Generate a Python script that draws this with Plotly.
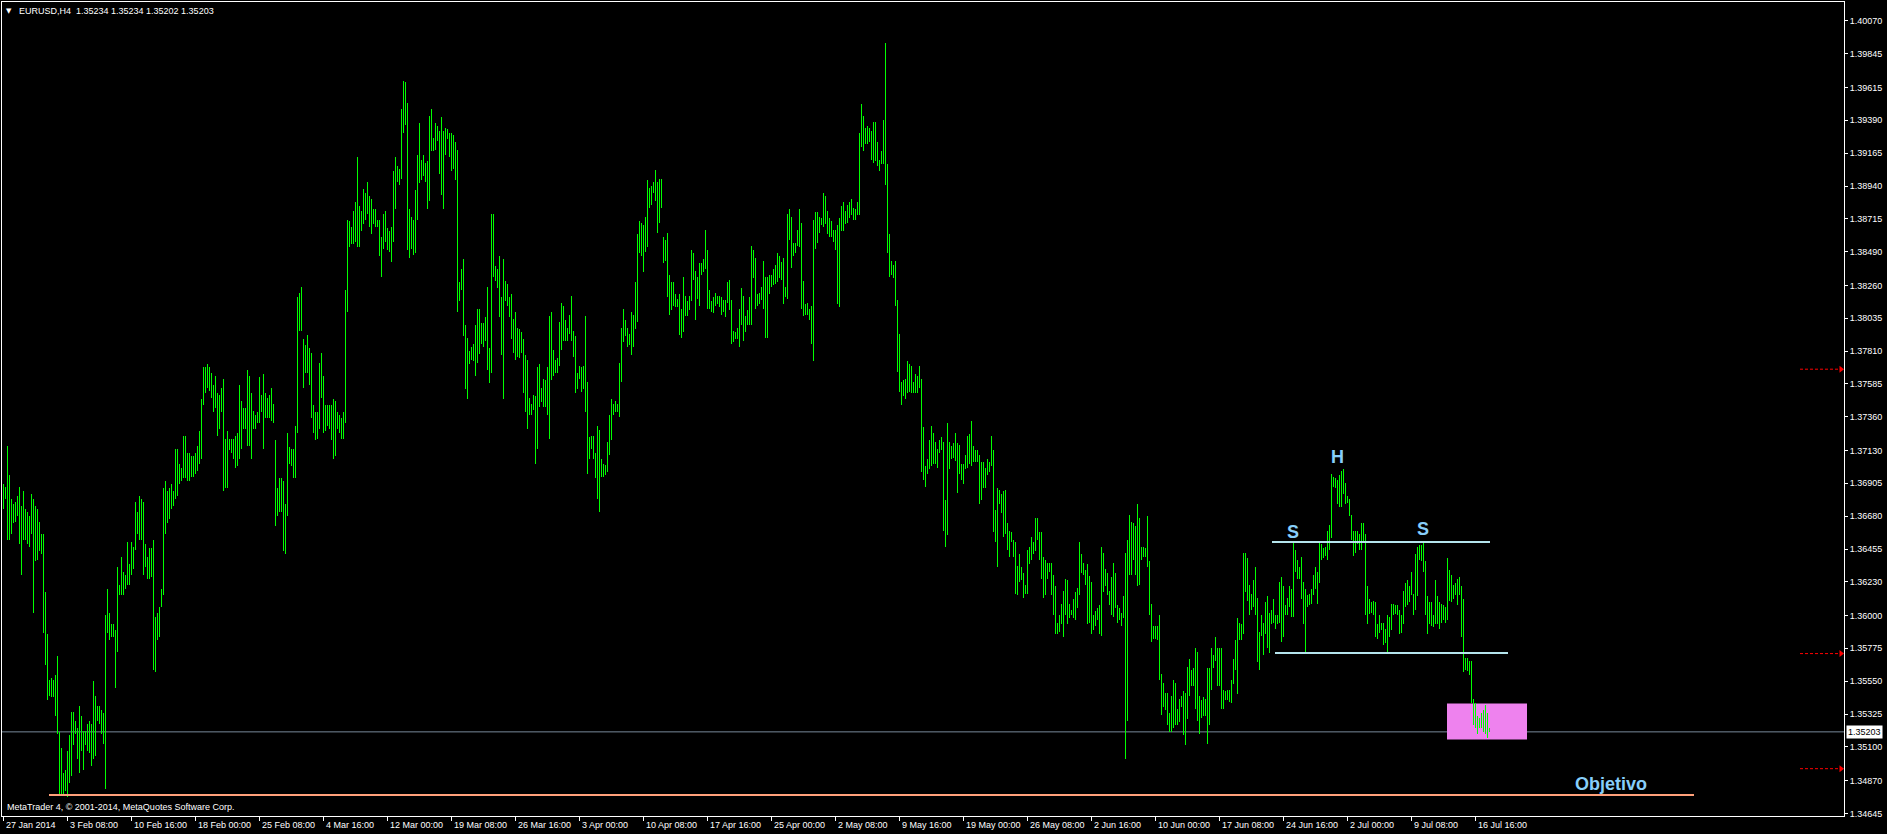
import plotly.graph_objects as go

# ---------------- DATA (EURUSD H4) ----------------
bar_high = [
    1.3690, 1.3688, 1.3716, 1.3696, 1.3680, 1.3676, 1.3678, 1.3682, 1.3688, 1.3675,
    1.3685, 1.3673, 1.3671, 1.3668, 1.3683, 1.3680, 1.3675, 1.3673, 1.3664, 1.3656,
    1.3656, 1.3616, 1.3587, 1.3556, 1.3557, 1.3556, 1.3559, 1.3572, 1.3520, 1.3509,
    1.3492, 1.3494, 1.3507, 1.3518, 1.3534, 1.3534, 1.3528, 1.3523, 1.3538, 1.3531,
    1.3521, 1.3521, 1.3526, 1.3528, 1.3526, 1.3555, 1.3545, 1.3538, 1.3538, 1.3535,
    1.3533, 1.3600, 1.3618, 1.3602, 1.3594, 1.3594, 1.3590, 1.3633, 1.3621, 1.3640,
    1.3630, 1.3628, 1.3650, 1.3635, 1.3650, 1.3647, 1.3678, 1.3671, 1.3682, 1.3680,
    1.3678, 1.3649, 1.3640, 1.3646, 1.3646, 1.3652, 1.3599, 1.3602, 1.3606, 1.3618,
    1.3687, 1.3692, 1.3685, 1.3687, 1.3690, 1.3685, 1.3714, 1.3714, 1.3704, 1.3701,
    1.3723, 1.3723, 1.3711, 1.3711, 1.3709, 1.3709, 1.3711, 1.3716, 1.3726, 1.3748,
    1.3770, 1.3770, 1.3772, 1.3770, 1.3766, 1.3758, 1.3764, 1.3752, 1.3751, 1.3756,
    1.3762, 1.3721, 1.3726, 1.3721, 1.3721, 1.3721, 1.3723, 1.3725, 1.3758, 1.3747,
    1.3742, 1.3742, 1.3768, 1.3764, 1.3752, 1.3740, 1.3737, 1.3739, 1.3763, 1.3751,
    1.3765, 1.3752, 1.3749, 1.3751, 1.3756, 1.3745, 1.3720, 1.3687, 1.3694, 1.3694,
    1.3692, 1.3676, 1.3725, 1.3715, 1.3714, 1.3714, 1.3730, 1.3818, 1.3821, 1.3825,
    1.3789, 1.3785, 1.3792, 1.3783, 1.3780, 1.3744, 1.3739, 1.3739, 1.3773, 1.3780,
    1.3764, 1.3744, 1.3744, 1.3744, 1.3744, 1.3748, 1.3747, 1.3739, 1.3737, 1.3735,
    1.3739, 1.3823, 1.3871, 1.3870, 1.3866, 1.3877, 1.3883, 1.3914, 1.3880, 1.3877,
    1.3892, 1.3889, 1.3897, 1.3887, 1.3885, 1.3878, 1.3878, 1.3871, 1.3871, 1.3859,
    1.3875, 1.3877, 1.3865, 1.3863, 1.3866, 1.3904, 1.3914, 1.3908, 1.3906, 1.3947,
    1.3966, 1.3965, 1.3951, 1.3878, 1.3873, 1.3871, 1.3891, 1.3915, 1.3937, 1.3912,
    1.3915, 1.3910, 1.3911, 1.3942, 1.3947, 1.3927, 1.3937, 1.3935, 1.3932, 1.3941,
    1.3932, 1.3934, 1.3933, 1.3930, 1.3930, 1.3929, 1.3924, 1.3919, 1.3828, 1.3837,
    1.3844, 1.3799, 1.3790, 1.3781, 1.3784, 1.3786, 1.3799, 1.3810, 1.3810, 1.3800,
    1.3800, 1.3804, 1.3825, 1.3783, 1.3875, 1.3875, 1.3839, 1.3837, 1.3846, 1.3818,
    1.3844, 1.3829, 1.3827, 1.3818, 1.3820, 1.3803, 1.3808, 1.3797, 1.3796, 1.3794,
    1.3789, 1.3778, 1.3775, 1.3749, 1.3745, 1.3751, 1.3750, 1.3770, 1.3772, 1.3756,
    1.3762, 1.3761, 1.3770, 1.3805, 1.3808, 1.3782, 1.3775, 1.3776, 1.3801, 1.3814,
    1.3812, 1.3802, 1.3797, 1.3806, 1.3819, 1.3795, 1.3791, 1.3766, 1.3771, 1.3770,
    1.3771, 1.3805, 1.3760, 1.3722, 1.3723, 1.3723, 1.3711, 1.3730, 1.3727, 1.3707,
    1.3704, 1.3703, 1.3719, 1.3737, 1.3748, 1.3745, 1.3747, 1.3745, 1.3773, 1.3797,
    1.3810, 1.3802, 1.3797, 1.3793, 1.3808, 1.3806, 1.3828, 1.3861, 1.3870, 1.3869,
    1.3867, 1.3873, 1.3898, 1.3893, 1.3894, 1.3897, 1.3905, 1.3897, 1.3899, 1.3899,
    1.3859, 1.3857, 1.3862, 1.3833, 1.3828, 1.3828, 1.3820, 1.3817, 1.3820, 1.3810,
    1.3832, 1.3819, 1.3815, 1.3819, 1.3850, 1.3848, 1.3836, 1.3832, 1.3841, 1.3841,
    1.3844, 1.3864, 1.3850, 1.3823, 1.3815, 1.3818, 1.3821, 1.3819, 1.3819, 1.3818,
    1.3816, 1.3816, 1.3828, 1.3830, 1.3816, 1.3795, 1.3794, 1.3797, 1.3810, 1.3824,
    1.3819, 1.3805, 1.3809, 1.3818, 1.3853, 1.3850, 1.3845, 1.3820, 1.3821, 1.3825,
    1.3843, 1.3832, 1.3832, 1.3833, 1.3833, 1.3837, 1.3840, 1.3848, 1.3846, 1.3842,
    1.3845, 1.3825, 1.3875, 1.3878, 1.3873, 1.3855, 1.3855, 1.3864, 1.3878, 1.3869,
    1.3829, 1.3813, 1.3814, 1.3810, 1.3812, 1.3871, 1.3876, 1.3876, 1.3873, 1.3872,
    1.3889, 1.3887, 1.3877, 1.3872, 1.3870, 1.3864, 1.3864, 1.3867, 1.3872, 1.3880,
    1.3883, 1.3877, 1.3881, 1.3883, 1.3885, 1.3879, 1.3878, 1.3883, 1.3930, 1.3950,
    1.3942, 1.3934, 1.3935, 1.3934, 1.3932, 1.3938, 1.3938, 1.3924, 1.3912, 1.3918,
    1.3939, 1.3992, 1.3909, 1.3861, 1.3843, 1.3840, 1.3843, 1.3816, 1.3793, 1.3760,
    1.3761, 1.3762, 1.3774, 1.3772, 1.3771, 1.3760, 1.3765, 1.3764, 1.3771, 1.3762,
    1.3729, 1.3702, 1.3707, 1.3720, 1.3730, 1.3725, 1.3719, 1.3714, 1.3720, 1.3722,
    1.3719, 1.3679, 1.3732, 1.3719, 1.3716, 1.3718, 1.3725, 1.3718, 1.3717, 1.3704,
    1.3704, 1.3710, 1.3723, 1.3724, 1.3733, 1.3716, 1.3713, 1.3713, 1.3710, 1.3705,
    1.3705, 1.3701, 1.3707, 1.3705, 1.3723, 1.3713, 1.3672, 1.3687, 1.3686, 1.3683,
    1.3685, 1.3686, 1.3663, 1.3658, 1.3657, 1.3652, 1.3650, 1.3634, 1.3642, 1.3633,
    1.3629, 1.3621, 1.3645, 1.3647, 1.3654, 1.3650, 1.3667, 1.3667, 1.3657, 1.3657,
    1.3640, 1.3638, 1.3636, 1.3636, 1.3636, 1.3628, 1.3620, 1.3595, 1.3600, 1.3608,
    1.3617, 1.3625, 1.3624, 1.3608, 1.3604, 1.3611, 1.3616, 1.3619, 1.3650, 1.3642,
    1.3636, 1.3631, 1.3635, 1.3627, 1.3623, 1.3600, 1.3603, 1.3605, 1.3607, 1.3647,
    1.3643, 1.3632, 1.3629, 1.3617, 1.3626, 1.3636, 1.3629, 1.3607, 1.3605, 1.3602,
    1.3613, 1.3643, 1.3652, 1.3669, 1.3664, 1.3663, 1.3661, 1.3676, 1.3667, 1.3647,
    1.3647, 1.3646, 1.3668, 1.3637, 1.3608, 1.3593, 1.3593, 1.3593, 1.3600, 1.3560,
    1.3554, 1.3547, 1.3547, 1.3533, 1.3545, 1.3556, 1.3554, 1.3536, 1.3543, 1.3545,
    1.3548, 1.3547, 1.3565, 1.3570, 1.3563, 1.3564, 1.3578, 1.3575, 1.3545, 1.3542,
    1.3544, 1.3543, 1.3564, 1.3564, 1.3578, 1.3573, 1.3585, 1.3578, 1.3578, 1.3578,
    1.3549, 1.3548, 1.3549, 1.3549, 1.3556, 1.3570, 1.3583, 1.3598, 1.3595, 1.3594,
    1.3643, 1.3643, 1.3639, 1.3621, 1.3615, 1.3624, 1.3633, 1.3612, 1.3589, 1.3600,
    1.3595, 1.3609, 1.3613, 1.3602, 1.3604, 1.3611, 1.3600, 1.3600, 1.3623, 1.3626,
    1.3620, 1.3607, 1.3612, 1.3620, 1.3618, 1.3650, 1.3645, 1.3638, 1.3633, 1.3640,
    1.3623, 1.3618, 1.3614, 1.3615, 1.3618, 1.3628, 1.3633, 1.3630, 1.3650, 1.3649,
    1.3646, 1.3647, 1.3658, 1.3662, 1.3697, 1.3695, 1.3694, 1.3693, 1.3696, 1.3699,
    1.3700, 1.3691, 1.3682, 1.3680, 1.3669, 1.3658, 1.3658, 1.3658, 1.3656, 1.3663,
    1.3663, 1.3656, 1.3620, 1.3611, 1.3609, 1.3610, 1.3609, 1.3594, 1.3600, 1.3595,
    1.3595, 1.3591, 1.3600, 1.3599, 1.3608, 1.3608, 1.3607, 1.3607, 1.3604, 1.3600,
    1.3617, 1.3622, 1.3624, 1.3620, 1.3630, 1.3615, 1.3642, 1.3647, 1.3648, 1.3648,
    1.3650, 1.3637, 1.3613, 1.3609, 1.3609, 1.3600, 1.3624, 1.3613, 1.3609, 1.3608,
    1.3607, 1.3606, 1.3639, 1.3631, 1.3628, 1.3621, 1.3622, 1.3625, 1.3626, 1.3620,
    1.3611, 1.3571, 1.3571, 1.3569, 1.3569, 1.3543, 1.3540, 1.3531, 1.3530, 1.3533,
    1.3535, 1.3539, 1.3533, 1.3523,
]

bar_low = [
    1.3673, 1.3680, 1.3652, 1.3652, 1.3656, 1.3663, 1.3664, 1.3668, 1.3649, 1.3628,
    1.3652, 1.3652, 1.3649, 1.3647, 1.3656, 1.3602, 1.3637, 1.3638, 1.3644, 1.3642,
    1.3588, 1.3566, 1.3542, 1.3545, 1.3544, 1.3544, 1.3531, 1.3519, 1.3478, 1.3478,
    1.3478, 1.3480, 1.3476, 1.3485, 1.3490, 1.3511, 1.3519, 1.3502, 1.3492, 1.3507,
    1.3494, 1.3511, 1.3507, 1.3506, 1.3497, 1.3502, 1.3504, 1.3528, 1.3526, 1.3519,
    1.3512, 1.3481, 1.3588, 1.3583, 1.3585, 1.3585, 1.3550, 1.3575, 1.3614, 1.3614,
    1.3614, 1.3618, 1.3621, 1.3621, 1.3628, 1.3632, 1.3645, 1.3656, 1.3652, 1.3652,
    1.3628, 1.3633, 1.3625, 1.3625, 1.3626, 1.3563, 1.3561, 1.3583, 1.3585, 1.3606,
    1.3614, 1.3656, 1.3663, 1.3666, 1.3673, 1.3675, 1.3680, 1.3682, 1.3690, 1.3692,
    1.3694, 1.3694, 1.3692, 1.3692, 1.3695, 1.3695, 1.3697, 1.3699, 1.3704, 1.3707,
    1.3744, 1.3752, 1.3756, 1.3754, 1.3749, 1.3739, 1.3742, 1.3723, 1.3728, 1.3739,
    1.3685, 1.3687, 1.3687, 1.3713, 1.3711, 1.3707, 1.3701, 1.3702, 1.3707, 1.3714,
    1.3728, 1.3728, 1.3716, 1.3716, 1.3707, 1.3728, 1.3728, 1.3732, 1.3732, 1.3739,
    1.3714, 1.3735, 1.3735, 1.3735, 1.3733, 1.3732, 1.3661, 1.3668, 1.3671, 1.3671,
    1.3644, 1.3642, 1.3668, 1.3704, 1.3702, 1.3694, 1.3694, 1.3725, 1.3795, 1.3795,
    1.3756, 1.3766, 1.3766, 1.3758, 1.3735, 1.3725, 1.3720, 1.3721, 1.3728, 1.3749,
    1.3725, 1.3726, 1.3730, 1.3728, 1.3720, 1.3707, 1.3709, 1.3728, 1.3725, 1.3721,
    1.3721, 1.3732, 1.3808, 1.3852, 1.3854, 1.3854, 1.3856, 1.3852, 1.3852, 1.3863,
    1.3868, 1.3871, 1.3875, 1.3866, 1.3861, 1.3868, 1.3866, 1.3866, 1.3846, 1.3832,
    1.3851, 1.3856, 1.3850, 1.3849, 1.3842, 1.3856, 1.3878, 1.3897, 1.3895, 1.3899,
    1.3930, 1.3936, 1.3850, 1.3845, 1.3851, 1.3847, 1.3848, 1.3871, 1.3896, 1.3898,
    1.3901, 1.3897, 1.3878, 1.3884, 1.3918, 1.3918, 1.3919, 1.3925, 1.3902, 1.3888,
    1.3878, 1.3915, 1.3926, 1.3914, 1.3904, 1.3906, 1.3898, 1.3808, 1.3815, 1.3823,
    1.3791, 1.3755, 1.3748, 1.3772, 1.3775, 1.3774, 1.3764, 1.3773, 1.3779, 1.3786,
    1.3784, 1.3788, 1.3768, 1.3759, 1.3766, 1.3832, 1.3829, 1.3824, 1.3804, 1.3778,
    1.3748, 1.3815, 1.3812, 1.3804, 1.3789, 1.3780, 1.3775, 1.3777, 1.3776, 1.3780,
    1.3752, 1.3739, 1.3728, 1.3737, 1.3737, 1.3741, 1.3704, 1.3714, 1.3743, 1.3746,
    1.3743, 1.3743, 1.3737, 1.3721, 1.3761, 1.3764, 1.3766, 1.3766, 1.3771, 1.3782,
    1.3788, 1.3788, 1.3788, 1.3793, 1.3788, 1.3777, 1.3752, 1.3755, 1.3762, 1.3753,
    1.3755, 1.3739, 1.3697, 1.3707, 1.3714, 1.3707, 1.3694, 1.3680, 1.3671, 1.3695,
    1.3695, 1.3696, 1.3698, 1.3710, 1.3720, 1.3737, 1.3739, 1.3739, 1.3736, 1.3760,
    1.3787, 1.3791, 1.3784, 1.3785, 1.3778, 1.3784, 1.3796, 1.3801, 1.3848, 1.3846,
    1.3835, 1.3849, 1.3852, 1.3879, 1.3881, 1.3889, 1.3884, 1.3862, 1.3869, 1.3879,
    1.3841, 1.3843, 1.3818, 1.3806, 1.3809, 1.3812, 1.3811, 1.3811, 1.3792, 1.3790,
    1.3794, 1.3805, 1.3805, 1.3809, 1.3815, 1.3830, 1.3802, 1.3817, 1.3812, 1.3833,
    1.3835, 1.3837, 1.3810, 1.3810, 1.3808, 1.3807, 1.3812, 1.3813, 1.3811, 1.3806,
    1.3808, 1.3804, 1.3814, 1.3809, 1.3786, 1.3787, 1.3789, 1.3789, 1.3784, 1.3799,
    1.3788, 1.3794, 1.3799, 1.3799, 1.3799, 1.3831, 1.3810, 1.3812, 1.3813, 1.3816,
    1.3810, 1.3790, 1.3790, 1.3820, 1.3825, 1.3826, 1.3827, 1.3828, 1.3831, 1.3830,
    1.3813, 1.3818, 1.3817, 1.3857, 1.3838, 1.3846, 1.3848, 1.3853, 1.3852, 1.3810,
    1.3805, 1.3806, 1.3806, 1.3802, 1.3786, 1.3774, 1.3851, 1.3855, 1.3862, 1.3867,
    1.3866, 1.3868, 1.3861, 1.3859, 1.3859, 1.3856, 1.3850, 1.3813, 1.3811, 1.3863,
    1.3863, 1.3868, 1.3869, 1.3872, 1.3874, 1.3871, 1.3871, 1.3874, 1.3874, 1.3921,
    1.3918, 1.3923, 1.3923, 1.3924, 1.3912, 1.3910, 1.3911, 1.3908, 1.3904, 1.3909,
    1.3909, 1.3895, 1.3848, 1.3832, 1.3833, 1.3831, 1.3812, 1.3767, 1.3753, 1.3744,
    1.3750, 1.3748, 1.3752, 1.3753, 1.3752, 1.3752, 1.3752, 1.3752, 1.3756, 1.3698,
    1.3693, 1.3688, 1.3697, 1.3700, 1.3702, 1.3704, 1.3704, 1.3701, 1.3711, 1.3713,
    1.3658, 1.3647, 1.3655, 1.3700, 1.3707, 1.3708, 1.3706, 1.3684, 1.3697, 1.3693,
    1.3690, 1.3700, 1.3701, 1.3704, 1.3702, 1.3705, 1.3705, 1.3705, 1.3676, 1.3679,
    1.3687, 1.3687, 1.3696, 1.3698, 1.3702, 1.3657, 1.3650, 1.3633, 1.3676, 1.3670,
    1.3654, 1.3656, 1.3645, 1.3640, 1.3650, 1.3640, 1.3615, 1.3614, 1.3623, 1.3624,
    1.3612, 1.3615, 1.3615, 1.3635, 1.3638, 1.3642, 1.3644, 1.3652, 1.3638, 1.3625,
    1.3612, 1.3614, 1.3625, 1.3630, 1.3614, 1.3600, 1.3587, 1.3587, 1.3589, 1.3594,
    1.3585, 1.3600, 1.3594, 1.3598, 1.3600, 1.3598, 1.3597, 1.3605, 1.3614, 1.3629,
    1.3628, 1.3621, 1.3594, 1.3595, 1.3587, 1.3590, 1.3593, 1.3597, 1.3587, 1.3586,
    1.3616, 1.3620, 1.3614, 1.3607, 1.3600, 1.3599, 1.3605, 1.3595, 1.3597, 1.3593,
    1.3598, 1.3502, 1.3528, 1.3628, 1.3628, 1.3638, 1.3628, 1.3620, 1.3621, 1.3638,
    1.3640, 1.3640, 1.3633, 1.3600, 1.3582, 1.3584, 1.3584, 1.3583, 1.3556, 1.3532,
    1.3537, 1.3535, 1.3525, 1.3520, 1.3520, 1.3523, 1.3525, 1.3525, 1.3527, 1.3537,
    1.3518, 1.3511, 1.3529, 1.3545, 1.3552, 1.3552, 1.3536, 1.3528, 1.3519, 1.3530,
    1.3531, 1.3531, 1.3512, 1.3525, 1.3549, 1.3564, 1.3569, 1.3552, 1.3552, 1.3536,
    1.3536, 1.3542, 1.3542, 1.3541, 1.3540, 1.3553, 1.3563, 1.3546, 1.3583, 1.3583,
    1.3587, 1.3616, 1.3610, 1.3600, 1.3604, 1.3606, 1.3600, 1.3568, 1.3563, 1.3586,
    1.3573, 1.3587, 1.3578, 1.3574, 1.3594, 1.3595, 1.3591, 1.3594, 1.3595, 1.3582,
    1.3585, 1.3600, 1.3600, 1.3606, 1.3599, 1.3599, 1.3630, 1.3625, 1.3625, 1.3611,
    1.3594, 1.3575, 1.3606, 1.3607, 1.3608, 1.3614, 1.3618, 1.3608, 1.3622, 1.3638,
    1.3639, 1.3641, 1.3638, 1.3645, 1.3653, 1.3688, 1.3687, 1.3676, 1.3674, 1.3674,
    1.3683, 1.3676, 1.3677, 1.3668, 1.3652, 1.3641, 1.3643, 1.3649, 1.3645, 1.3645,
    1.3650, 1.3600, 1.3594, 1.3601, 1.3602, 1.3600, 1.3585, 1.3584, 1.3588, 1.3590,
    1.3580, 1.3581, 1.3575, 1.3585, 1.3590, 1.3600, 1.3601, 1.3600, 1.3587, 1.3588,
    1.3594, 1.3606, 1.3607, 1.3609, 1.3614, 1.3600, 1.3604, 1.3613, 1.3638, 1.3637,
    1.3630, 1.3600, 1.3587, 1.3594, 1.3593, 1.3592, 1.3594, 1.3594, 1.3591, 1.3595,
    1.3597, 1.3595, 1.3597, 1.3610, 1.3609, 1.3611, 1.3614, 1.3607, 1.3614, 1.3585,
    1.3561, 1.3563, 1.3562, 1.3559, 1.3540, 1.3525, 1.3523, 1.3519, 1.3523, 1.3523,
    1.3520, 1.3519, 1.3516, 1.3520,
]

bar_number = list(range(len(bar_high)))          # H4 bars, one per slot

chart_title = "EURUSD,H4"
last_bar_ohlc = ["1.35234", "1.35234", "1.35202", "1.35203"]
current_bid = 1.35203
copyright_text = "MetaTrader 4, \u00a9 2001-2014, MetaQuotes Software Corp."

price_ticks = [1.40070, 1.39845, 1.39615, 1.39390, 1.39165, 1.38940, 1.38715,
               1.38490, 1.38260, 1.38035, 1.37810, 1.37585, 1.37360, 1.37130,
               1.36905, 1.36680, 1.36455, 1.36230, 1.36000, 1.35775, 1.35550,
               1.35325, 1.35100, 1.34870, 1.34645]

time_tick_bars = [0, 32, 64, 96, 128, 160, 192, 224, 256, 288, 320, 352,
                  384, 416, 448, 480, 512, 544, 576, 608, 640, 672, 704, 736]
time_tick_labels = ["27 Jan 2014", "3 Feb 08:00", "10 Feb 16:00", "18 Feb 00:00",
                    "25 Feb 08:00", "4 Mar 16:00", "12 Mar 00:00", "19 Mar 08:00",
                    "26 Mar 16:00", "3 Apr 00:00", "10 Apr 08:00", "17 Apr 16:00",
                    "25 Apr 00:00", "2 May 08:00", "9 May 16:00", "19 May 00:00",
                    "26 May 08:00", "2 Jun 16:00", "10 Jun 00:00", "17 Jun 08:00",
                    "24 Jun 16:00", "2 Jul 00:00", "9 Jul 08:00", "16 Jul 16:00"]

# chart objects drawn by the trader (anchor bar, price)
neck_upper_price = 1.36503
neck_upper_bars = [634.25, 743.25]
neck_lower_price = 1.35743
neck_lower_bars = [635.75, 752.25]
target_price = 1.34770
target_bars = [22.75, 845.25]
target_zone_bars = [721.75, 761.75]
target_zone_prices = [1.35151, 1.35398]
alert_prices = [1.37686, 1.35739, 1.34951]
alert_bars = [898.25, 918.25]
pattern_labels = ["S", "H", "S", "Objetivo"]
pattern_label_bars = [644.6, 666.75, 709.6, 803.75]
pattern_label_prices = [1.36572, 1.37083, 1.36595, 1.34843]

# ---------------- STYLE ----------------
GREEN = "#00FF00"
LABEL_BLUE = "#87CEFA"
NECK = "#B4E4EC"
SALMON = "#FFA07A"
UI_FONT = "Liberation Sans"

X_RANGE = [-0.75, 920.25]
Y_RANGE = [1.34627, 1.40200]

fig = go.Figure()

fig.add_trace(go.Bar(
    x=bar_number,
    y=[h - l for h, l in zip(bar_high, bar_low)],
    base=bar_low,
    width=0.62,
    marker=dict(color=GREEN, line=dict(width=0)),
    hoverinfo="skip",
    showlegend=False,
))

# alert arrows at the right end of the red dashed levels
fig.add_trace(go.Scatter(
    x=[alert_bars[1] + 0.5] * len(alert_prices),
    y=alert_prices,
    mode="markers",
    marker=dict(symbol="triangle-right", size=6, color="#FF0000", line=dict(width=0)),
    hoverinfo="skip",
    showlegend=False,
    cliponaxis=False,
))

shapes = []
shapes.append(dict(type="rect", xref="x", yref="y",
                   x0=target_zone_bars[0], x1=target_zone_bars[1],
                   y0=target_zone_prices[0], y1=target_zone_prices[1],
                   fillcolor="#EE82EE", line=dict(width=0), layer="below"))
shapes.append(dict(type="line", xref="paper", yref="y", x0=0, x1=1,
                   y0=current_bid, y1=current_bid,
                   line=dict(color="#778899", width=1), layer="below"))
shapes.append(dict(type="line", xref="x", yref="y",
                   x0=neck_upper_bars[0], x1=neck_upper_bars[1],
                   y0=neck_upper_price, y1=neck_upper_price,
                   line=dict(color=NECK, width=2)))
shapes.append(dict(type="line", xref="x", yref="y",
                   x0=neck_lower_bars[0], x1=neck_lower_bars[1],
                   y0=neck_lower_price, y1=neck_lower_price,
                   line=dict(color=NECK, width=2)))
shapes.append(dict(type="line", xref="x", yref="y",
                   x0=target_bars[0], x1=target_bars[1],
                   y0=target_price, y1=target_price,
                   line=dict(color=SALMON, width=2)))
for p in alert_prices:
    shapes.append(dict(type="line", xref="x", yref="y",
                       x0=alert_bars[0], x1=alert_bars[1], y0=p, y1=p,
                       line=dict(color="#FF0000", width=1, dash="3px,2px")))

annotations = []
for txt, bx, py in zip(pattern_labels, pattern_label_bars, pattern_label_prices):
    annotations.append(dict(x=bx, y=py, xref="x", yref="y", text=txt,
                            showarrow=False, xanchor="center", yanchor="middle",
                            font=dict(family=UI_FONT, size=18, color=LABEL_BLUE,
                                      weight="bold")))

for bx, lab in zip(time_tick_bars, time_tick_labels):
    annotations.append(dict(x=bx, y=0, xref="x", yref="paper", text=lab,
                            showarrow=False, xanchor="left", yanchor="top",
                            xshift=1, yshift=-3, borderpad=0,
                            font=dict(family=UI_FONT, size=9, color="#FFFFFF")))

annotations.append(dict(x=0, y=1, xref="paper", yref="paper", text="\u25bc",
                        showarrow=False, xanchor="left", yanchor="top",
                        xshift=3, yshift=-4, borderpad=0,
                        font=dict(family="DejaVu Sans", size=7, color="#FFFFFF")))
annotations.append(dict(x=0, y=1, xref="paper", yref="paper",
                        text=chart_title + "\u00a0\u00a0" + " ".join(last_bar_ohlc),
                        showarrow=False, xanchor="left", yanchor="top",
                        xshift=16, yshift=-3, borderpad=0,
                        font=dict(family=UI_FONT, size=9, color="#FFFFFF")))
annotations.append(dict(x=0, y=0, xref="paper", yref="paper", text=copyright_text,
                        showarrow=False, xanchor="left", yanchor="bottom",
                        xshift=4, yshift=3, borderpad=0,
                        font=dict(family=UI_FONT, size=9, color="#FFFFFF")))
annotations.append(dict(x=1, y=current_bid, xref="paper", yref="y",
                        text="%.5f" % current_bid, showarrow=False,
                        xanchor="left", yanchor="middle", xshift=2,
                        bgcolor="#FFFFFF", borderpad=1,
                        font=dict(family=UI_FONT, size=9, color="#000000")))

fig.update_layout(
    width=1887, height=834,
    margin=dict(l=2, r=43, t=2, b=18, pad=0),
    paper_bgcolor="#000000", plot_bgcolor="#000000",
    showlegend=False,
    shapes=shapes,
    annotations=annotations,
    bargap=0,
    xaxis=dict(range=X_RANGE, showgrid=False, zeroline=False,
               showline=True, linecolor="#FFFFFF", linewidth=1, mirror=True,
               ticks="outside", ticklen=4, tickcolor="#FFFFFF", tickwidth=1,
               tickvals=time_tick_bars, showticklabels=False,
               automargin=False, fixedrange=True),
    yaxis=dict(range=Y_RANGE, side="right", showgrid=False, zeroline=False,
               showline=True, linecolor="#FFFFFF", linewidth=1, mirror=True,
               ticks="outside", ticklen=3, tickcolor="#FFFFFF", tickwidth=1,
               tickvals=price_ticks, ticktext=["%.5f" % v for v in price_ticks],
               tickfont=dict(family=UI_FONT, size=9, color="#FFFFFF"),
               automargin=False, fixedrange=True),
)

fig.write_html("out.html", include_plotlyjs=True, full_html=True,
               config={"displayModeBar": False, "staticPlot": True},
               post_script="document.body.style.margin='0';document.body.style.overflow='hidden';")
